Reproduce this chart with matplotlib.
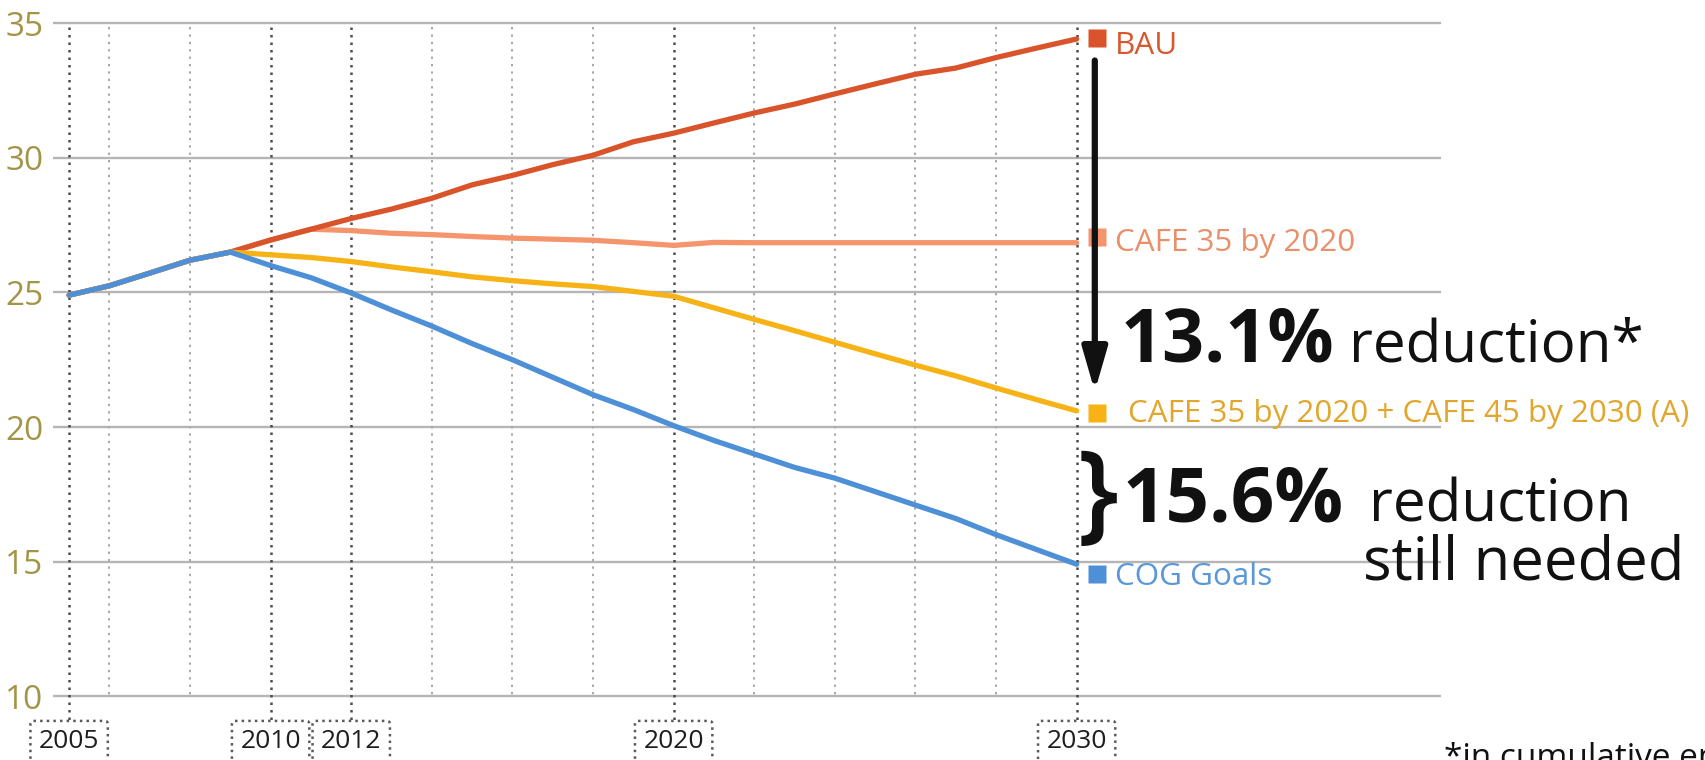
import matplotlib
matplotlib.use("Agg")
import matplotlib.pyplot as plt
import matplotlib.transforms as mtransforms

# ---------------- data ----------------
years = list(range(2005, 2031))
bau = [24.9, 25.25, 25.72, 26.2, 26.5, 26.95, 27.35, 27.75, 28.1, 28.5, 29.0,
       29.35, 29.75, 30.1, 30.6, 30.92, 31.3, 31.67, 32.0, 32.38, 32.75,
       33.11, 33.34, 33.73, 34.08, 34.42]
cafe35 = [24.9, 25.25, 25.72, 26.2, 26.5, 26.95, 27.35, 27.3, 27.2, 27.15, 27.08,
          27.02, 26.98, 26.94, 26.85, 26.75, 26.86, 26.85, 26.85, 26.85, 26.85,
          26.85, 26.85, 26.85, 26.85, 26.85]
cafe45 = [24.9, 25.25, 25.72, 26.2, 26.5, 26.4, 26.3, 26.15, 25.95, 25.77, 25.58,
          25.44, 25.32, 25.22, 25.04, 24.86, 24.43, 24.0, 23.58, 23.15, 22.72,
          22.3, 21.9, 21.45, 21.02, 20.6]
cog = [24.9, 25.25, 25.72, 26.2, 26.5, 26.0, 25.55, 24.98, 24.35, 23.75, 23.1,
       22.5, 21.85, 21.2, 20.65, 20.05, 19.5, 19.0, 18.5, 18.1, 17.6,
       17.1, 16.6, 16.0, 15.45, 14.9]

series_labels = ["BAU", "CAFE 35 by 2020",
                 "CAFE 35 by 2020 + CAFE 45 by 2030 (A)", "COG Goals"]
y_ticks = [10, 15, 20, 25, 30, 35]
labeled_years = [2005, 2010, 2012, 2020, 2030]
minor_years = [2006, 2008, 2014, 2016, 2018, 2022, 2024, 2026, 2028]
reduction_main = "13.1%"
reduction_needed = "15.6%"
footnote = "*in cumulative emissions"

# ---------------- style ----------------
plt.rcParams['font.family'] = ['Open Sans', 'DejaVu Sans']
W, H = 1706, 760
c_bau, c_cafe35, c_cafe45, c_cog = '#d9532b', '#f4956e', '#f7b316', '#4d90d8'
t_bau, t_cafe35, t_cafe45, t_cog = '#d6582f', '#e98f69', '#e2a62c', '#5a98d8'
olive = '#a39548'


def px(x, y):
    return x / W, 1 - y / H


fig = plt.figure(figsize=(W / 100, H / 100), dpi=100)
ax = fig.add_axes([53 / W, 1 - 701.5 / H, (1441 - 53) / W, (701.5 - 18) / H])
ax.set_xlim(2004.60, 2039.04)
ax.set_ylim(9.8, 35.2)
for s in ax.spines.values():
    s.set_visible(False)
ax.set_xticks([])
ax.set_yticks(y_ticks)
ax.set_yticklabels([str(v) for v in y_ticks])
ax.tick_params(axis='y', length=0, pad=7, labelsize=24, labelcolor=olive)

# horizontal grid
for v in y_ticks:
    ax.axhline(v, color='#b5b5b5', lw=1.7, zorder=1)

# vertical dotted lines
box_y = 8.3
for yr in minor_years:
    ax.plot([yr, yr], [34.85, 10], color='#a8a8a8', lw=1.4,
            ls=(0, (1.2, 2.6)), zorder=1.5)
for yr in labeled_years:
    ax.plot([yr, yr], [34.85, box_y + 0.8], color='#4d4d4d', lw=1.8,
            ls=(0, (1, 2)), zorder=1.5, clip_on=False)
    ax.text(yr, box_y, str(yr), ha='center', va='center', fontsize=19,
            color='#1e1e1e', clip_on=False, zorder=4,
            bbox=dict(boxstyle='round,pad=0.32,rounding_size=0.12',
                      fc='white', ec='#5a5a5a', ls=':', lw=1.8))

# series
lw = 3.8
ax.plot(years, cafe35, color=c_cafe35, lw=lw, zorder=3, solid_capstyle='round')
ax.plot(years, bau, color=c_bau, lw=lw, zorder=3.1, solid_capstyle='round')
ax.plot(years, cafe45, color=c_cafe45, lw=lw, zorder=3.2, solid_capstyle='round')
ax.plot(years, cog, color=c_cog, lw=lw, zorder=3.3, solid_capstyle='round')

# end markers + labels
mark_x = years[-1] + 0.5
ends = [(bau, c_bau, t_bau, 1, (18, -8)),
        (cafe35, c_cafe35, t_cafe35, 6, (18, -6)),
        (cafe45, c_cafe45, t_cafe45, -2, (31, -1)),
        (cog, c_cog, t_cog, -10, (18, -3))]
for (ser, col, tcol, dy, toff), lab in zip(ends, series_labels):
    tr = mtransforms.offset_copy(ax.transData, fig=fig, x=0, y=dy, units='dots')
    ax.plot([mark_x], [ser[-1]], marker='s', ms=13, color=col, mec='none',
            transform=tr, clip_on=False, zorder=5)
    ax.annotate(lab, xy=(mark_x, ser[-1]), xycoords=tr,
                xytext=(toff[0], toff[1]), textcoords='offset pixels',
                ha='left', va='center', fontsize=22.6, color=tcol,
                annotation_clip=False)

# arrow BAU -> CAFE45
ax.annotate('', xy=(mark_x - 0.05, cafe45[-1] + 0.72),
            xytext=(mark_x - 0.05, bau[-1] - 0.8),
            arrowprops=dict(arrowstyle='-|>,head_length=2.6,head_width=0.75',
                            mutation_scale=10, lw=4.5, color='#111111',
                            shrinkA=0, shrinkB=0),
            annotation_clip=False, zorder=6)

# big annotation texts
fig.text(*px(1121, 362), reduction_main, fontsize=53, fontweight='bold',
         color='#111111', ha='left', va='baseline')
fig.text(*px(1349, 362), "reduction*", fontsize=42, color='#111111',
         ha='left', va='baseline')
fig.text(*px(1099, 500), "}", fontsize=78, color='#111111',
         ha='center', va='center', fontweight='semibold')
fig.text(*px(1123, 522), reduction_needed, fontsize=55, fontweight='bold',
         color='#111111', ha='left', va='baseline')
fig.text(*px(1369, 522), "reduction", fontsize=42, color='#111111',
         ha='left', va='baseline')
fig.text(*px(1363, 580), "still needed", fontsize=43, color='#111111',
         ha='left', va='baseline')
fig.text(*px(1444, 767), footnote, fontsize=24, color='#111111',
         ha='left', va='baseline')

fig.savefig("out.png", dpi=100)
